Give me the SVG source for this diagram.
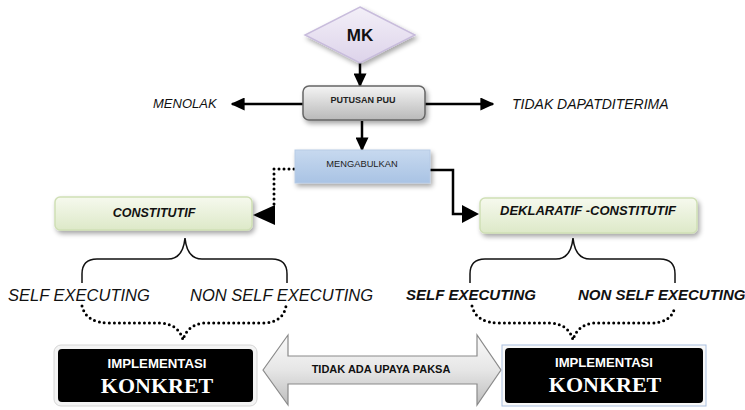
<svg xmlns="http://www.w3.org/2000/svg" width="745" height="410" viewBox="0 0 745 410">
  <defs>
    <linearGradient id="gDiamond" x1="0" y1="0" x2="0" y2="1">
      <stop offset="0" stop-color="#f3eff8"/>
      <stop offset="1" stop-color="#ddd3ea"/>
    </linearGradient>
    <linearGradient id="gGray" x1="0" y1="0" x2="0" y2="1">
      <stop offset="0" stop-color="#f4f4f4"/>
      <stop offset="1" stop-color="#b9b9b9"/>
    </linearGradient>
    <linearGradient id="gBlue" x1="0" y1="0" x2="0" y2="1">
      <stop offset="0" stop-color="#c7d9ef"/>
      <stop offset="1" stop-color="#a9c3e4"/>
    </linearGradient>
    <linearGradient id="gGreen" x1="0" y1="0" x2="0" y2="1">
      <stop offset="0" stop-color="#f6f9ee"/>
      <stop offset="1" stop-color="#dde9c8"/>
    </linearGradient>
    <linearGradient id="gArrow" x1="0" y1="0" x2="0" y2="1">
      <stop offset="0" stop-color="#fafafa"/>
      <stop offset="0.5" stop-color="#e6e6e6"/>
      <stop offset="1" stop-color="#bdbdbd"/>
    </linearGradient>
    <filter id="shadow" x="-10%" y="-20%" width="130%" height="160%">
      <feGaussianBlur in="SourceAlpha" stdDeviation="2.5"/>
      <feOffset dx="2" dy="3" result="b"/>
      <feComponentTransfer><feFuncA type="linear" slope="0.35"/></feComponentTransfer>
      <feMerge><feMergeNode/><feMergeNode in="SourceGraphic"/></feMerge>
    </filter>
    <marker id="arrowBig" viewBox="0 0 10 10" refX="9" refY="5" markerWidth="5.6" markerHeight="5.2" markerUnits="strokeWidth" orient="auto" preserveAspectRatio="none">
      <path d="M0,0 L10,5 L0,10 z" fill="#000"/>
    </marker>
    <style>
      .sans { font-family: "Liberation Sans", Arial, sans-serif; }
      .serif { font-family: "Liberation Serif", "Times New Roman", serif; }
      .line { fill: none; stroke: #000; stroke-width: 2.5; }
      .dots { fill: none; stroke: #000; stroke-width: 3; stroke-linecap: round; stroke-dasharray: 0 5; }
      .brace { fill: none; stroke: #111; stroke-width: 1.5; }
      .label { font-size: 16.5px; font-style: italic; fill: #111; }
      .labelB { font-size: 15px; font-style: italic; font-weight: bold; fill: #111; }
      .wtitle { font-weight: bold; fill: #fff; }
    </style>
  </defs>

  <!-- connectors -->
  <g id="connectors">
    <line class="line" x1="360" y1="62" x2="360" y2="86" marker-end="url(#arrowBig)"/>
    <line class="line" x1="303" y1="104" x2="232" y2="104" marker-end="url(#arrowBig)"/>
    <line class="line" x1="425" y1="104" x2="493" y2="104" marker-end="url(#arrowBig)"/>
    <line class="line" x1="362" y1="121" x2="362" y2="150" marker-end="url(#arrowBig)"/>
    <polyline class="dots" points="294,169 274,169 274,205"/>
    <path d="M253,215 L275,205 L275,225 z" fill="#000"/>
    <polyline class="line" points="430,170 453,170 453,214 464,214"/>
    <path d="M479,214 L462,205 L462,223 z" fill="#000"/>
    <!-- braces under the category boxes -->
    <path class="brace" d="M82,283 L82,274 Q82,259 97,259 L168,259 Q183,259 185,238 Q187,259 202,259 L272,259 Q287,259 287,274 L287,283"/>
    <path class="brace" d="M470,283 L470,274 Q470,259 485,259 L556,259 Q571,259 573,238 Q575,259 590,259 L660,259 Q675,259 675,274 L675,283"/>
    <!-- dotted braces leading to the implementation boxes -->
    <path class="dots" d="M82,306 Q86,323 110,323 L162,323 Q179,325 183,340 Q187,325 204,323 L262,323 Q283,323 286,306"/>
    <path class="dots" d="M472,306 Q476,323 500,323 L552,323 Q569,325 573,340 Q577,325 594,323 L651,323 Q672,323 675,306"/>
    <!-- double block arrow -->
    <path d="M263,370 L288,335 L288,356 L477,356 L477,335 L501,370 L477,405 L477,384 L288,384 L288,405 z" fill="url(#gArrow)" stroke="#8a8a8a" stroke-width="1.2"/>
    <text class="sans" x="381" y="373" font-size="11" font-weight="bold" text-anchor="middle" fill="#111">TIDAK ADA UPAYA PAKSA</text>
  </g>

  <g id="mk">
    <path d="M360,7 L415,35 L360,63 L305,35 z" fill="url(#gDiamond)" stroke="#c8bcdc" stroke-width="1.5" filter="url(#shadow)"/>
    <text class="sans" x="360" y="41" font-size="17" font-weight="bold" text-anchor="middle" fill="#111">MK</text>
  </g>

  <g id="putusan">
    <rect x="303" y="86" width="122" height="34" rx="6" fill="url(#gGray)" stroke="#666" stroke-width="1.5" filter="url(#shadow)"/>
    <text class="sans" x="363" y="103" font-size="9" font-weight="bold" text-anchor="middle" fill="#222">PUTUSAN PUU</text>
  </g>

  <g id="menolak">
    <text class="sans" x="153" y="108" font-size="13" font-style="italic" fill="#111">MENOLAK</text>
  </g>

  <g id="tidak-dapat">
    <text class="sans" x="512" y="109" font-size="14" font-style="italic" fill="#111">TIDAK DAPATDITERIMA</text>
  </g>

  <g id="mengabulkan">
    <rect x="295" y="150" width="135" height="33" fill="url(#gBlue)" stroke="#b7cbe6" stroke-width="1" filter="url(#shadow)"/>
    <text class="sans" x="362" y="167" font-size="9.3" text-anchor="middle" fill="#222">MENGABULKAN</text>
  </g>

  <g id="constitutif">
    <rect x="55" y="197" width="197" height="33" rx="5" fill="url(#gGreen)" stroke="#cfdfb5" stroke-width="1.5" filter="url(#shadow)"/>
    <text class="sans" x="154" y="217" font-size="12.5" font-style="italic" font-weight="bold" text-anchor="middle" fill="#111">CONSTITUTIF</text>
  </g>

  <g id="deklaratif">
    <rect x="480" y="198" width="217" height="35" rx="5" fill="url(#gGreen)" stroke="#cfdfb5" stroke-width="1.5" filter="url(#shadow)"/>
    <text class="sans" x="588" y="215" font-size="13" font-style="italic" font-weight="bold" text-anchor="middle" fill="#111">DEKLARATIF -CONSTITUTIF</text>
  </g>

  <g id="left-options">
    <text class="sans label" x="8" y="301">SELF EXECUTING</text>
    <text class="sans label" x="190" y="301">NON SELF EXECUTING</text>
  </g>

  <g id="right-options">
    <text class="sans labelB" x="406" y="300">SELF EXECUTING</text>
    <text class="sans labelB" x="578" y="300">NON SELF EXECUTING</text>
  </g>

  <g id="implementasi-left">
    <rect x="54" y="345" width="203" height="61" rx="7" fill="#f4f4f4" stroke="#d6d6d6" stroke-width="1"/>
    <rect x="58" y="349" width="195" height="53" rx="4" fill="#000"/>
    <text class="sans wtitle" x="157" y="368" font-size="12" text-anchor="middle" textLength="99" lengthAdjust="spacingAndGlyphs">IMPLEMENTASI</text>
    <text class="serif wtitle" x="157" y="393" font-size="22" text-anchor="middle">KONKRET</text>
  </g>

  <g id="implementasi-right">
    <rect x="502" y="345" width="204" height="61" fill="#f8f8f8" stroke="#aac0e0" stroke-width="1"/>
    <rect x="505" y="348" width="198" height="55" rx="4" fill="#000"/>
    <text class="sans wtitle" x="604" y="367" font-size="12" text-anchor="middle" textLength="98" lengthAdjust="spacingAndGlyphs">IMPLEMENTASI</text>
    <text class="serif wtitle" x="605" y="392" font-size="22" text-anchor="middle">KONKRET</text>
  </g>
</svg>
